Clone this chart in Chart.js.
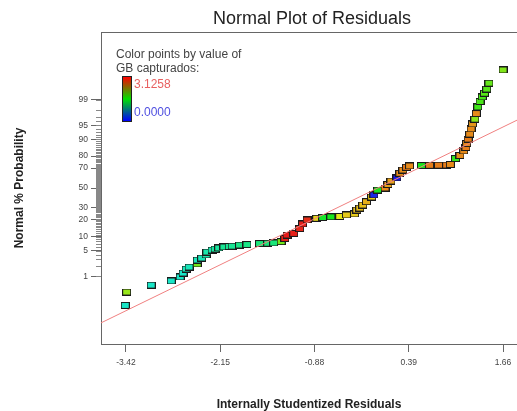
<!DOCTYPE html>
<html>
<head>
<meta charset="utf-8">
<script src="https://cdn.jsdelivr.net/npm/chart.js@4.4.1/dist/chart.umd.min.js"></script>
<style>
  html, body { margin: 0; padding: 0; background: #fff; }
</style>
</head>
<body>
<canvas id="npp" width="517" height="411"></canvas>
<script>
// residuals (x) and normal % probability (y)
const resX = [-3.43, -3.41, -3.08, -2.81, -2.69, -2.65, -2.61, -2.57, -2.46, -2.46,
  -2.40, -2.34, -2.33, -2.26, -2.22, -2.17, -2.10, -2.03, -1.99, -1.89,
  -1.79, -1.62, -1.51, -1.43, -1.33, -1.28, -1.25, -1.16, -1.08, -1.04,
  -0.98, -0.85, -0.77, -0.66, -0.54, -0.45, -0.34, -0.31, -0.27, -0.23,
  -0.18, -0.11, -0.08, -0.03, 0.07, 0.11, 0.15, 0.23, 0.27, 0.31,
  0.36, 0.40, 0.56, 0.67, 0.79, 0.90, 0.95, 1.02, 1.08, 1.13,
  1.16, 1.17, 1.19, 1.21, 1.23, 1.25, 1.28, 1.30, 1.32, 1.35,
  1.38, 1.41, 1.44, 1.47, 1.66];
const resP = [0.10, 0.31, 0.53, 0.72, 0.96, 1.26, 1.65, 1.88, 2.28, 2.9,
  3.27, 3.9, 4.6, 5.13, 5.42, 5.72, 6.03, 6.19, 6.3, 6.68,
  6.85, 7.2, 7.3, 7.4, 7.9, 9.2, 10.8, 11.6, 14.3, 17.2,
  20.0, 21.3, 21.9, 22.4, 22.7, 23.9, 24.7, 28.1, 29.9, 32.7,
  35.9, 40.6, 42.7, 47.9, 50.0, 53.7, 57.3, 60.4, 65.1, 68.2,
  70.7, 71.9, 72.3, 72.5, 72.6, 72.7, 73.2, 78.1, 80.4, 83.5,
  85.7, 87.9, 90.1, 92.2, 94.0, 95.4, 96.5, 97.5, 98.35, 98.86,
  99.17, 99.37, 99.54, 99.71, 99.905];
// GB capturados, used only for the point colour
const gbVal = [0.9, 2.05, 0.9, 0.9, 0.9, 0.9, 0.95, 0.95, 1.9, 0.95,
  0.95, 1.0, 1.0, 1.0, 1.05, 1.05, 1.1, 1.1, 1.1, 1.15,
  1.15, 1.2, 1.2, 1.2, 1.9, 3.1, 3.12, 3.1, 3.08, 3.1,
  3.05, 2.4, 1.5, 1.55, 2.35, 2.45, 2.45, 2.5, 2.5, 2.5,
  2.55, 2.45, 0.05, 1.55, 2.7, 2.6, 2.6, 0.0, 2.7, 2.7,
  2.75, 2.7, 1.55, 2.75, 2.75, 2.75, 2.7, 1.65, 2.7, 2.7,
  2.75, 2.7, 2.75, 2.7, 2.7, 2.65, 2.0, 2.7, 1.7, 1.75,
  1.75, 1.8, 1.8, 1.85, 1.95];
const gbMin = 0.0;
const gbMax = 3.1258;

// reference line end points
const refX = [-3.76, 1.85];
const refP = [0.019, 96.3];

const xTicks = [-3.42, -2.15, -0.88, 0.39, 1.66];
const yTickLabels = [1, 5, 10, 20, 30, 50, 70, 80, 90, 95, 99];

const FONT = 'Arial, "Liberation Sans", sans-serif';

// inverse normal cdf (Acklam)
function probToZ(p) {
  const a = [-3.969683028665376e+01, 2.209460984245205e+02, -2.759285104469687e+02, 1.383577518672690e+02, -3.066479806614716e+01, 2.506628277459239e+00];
  const b = [-5.447609879822406e+01, 1.615858368580409e+02, -1.556989798598866e+02, 6.680131188771972e+01, -1.328068155288572e+01];
  const c = [-7.784894002430293e-03, -3.223964580411365e-01, -2.400758277161838e+00, -2.549671010336070e+00, 4.374664141464968e+00, 2.938163982698783e+00];
  const d = [7.784695709041462e-03, 3.224671290700398e-01, 2.445134137142996e+00, 3.754408661907416e+00];
  const plow = 0.02425;
  let q, r;
  if (p < plow) {
    q = Math.sqrt(-2 * Math.log(p));
    return (((((c[0]*q+c[1])*q+c[2])*q+c[3])*q+c[4])*q+c[5]) / ((((d[0]*q+d[1])*q+d[2])*q+d[3])*q+1);
  }
  if (p > 1 - plow) {
    q = Math.sqrt(-2 * Math.log(1 - p));
    return -(((((c[0]*q+c[1])*q+c[2])*q+c[3])*q+c[4])*q+c[5]) / ((((d[0]*q+d[1])*q+d[2])*q+d[3])*q+1);
  }
  q = p - 0.5; r = q * q;
  return (((((a[0]*r+a[1])*r+a[2])*r+a[3])*r+a[4])*r+a[5])*q / (((((b[0]*r+b[1])*r+b[2])*r+b[3])*r+b[4])*r+1);
}

function colorFor(v) {
  const t = (v - gbMin) / (gbMax - gbMin);
  return `hsl(${Math.round(240 * (1 - t))}, 80%, 50%)`;
}

const markCache = {};
function marker(col) {
  if (markCache[col]) return markCache[col];
  const cv = document.createElement('canvas');
  cv.width = 9; cv.height = 7;
  const c = cv.getContext('2d');
  c.fillStyle = col;
  c.fillRect(0, 0, 9, 7);
  c.strokeStyle = '#1a1a1a';
  c.lineWidth = 1;
  c.strokeRect(0.5, 0.5, 8, 6);
  markCache[col] = cv;
  return cv;
}

const pts = resX.map((x, i) => ({ x: x, y: probToZ(resP[i] / 100) }));
const ptStyles = gbVal.map(v => marker(colorFor(v)));
const refLine = refX.map((x, i) => ({ x: x, y: probToZ(refP[i] / 100) }));

const extras = {
  id: 'extras',
  afterDraw(chart) {
    const ctx = chart.ctx;
    const area = chart.chartArea;
    const ys = chart.scales.y;
    ctx.save();
    // top frame line
    ctx.strokeStyle = '#666';
    ctx.lineWidth = 1;
    ctx.beginPath();
    ctx.moveTo(area.left, area.top + 0.5);
    ctx.lineTo(area.right, area.top + 0.5);
    ctx.stroke();
    // minor ticks on the probability axis
    ctx.strokeStyle = '#888';
    ctx.beginPath();
    for (let p = 1; p <= 99; p++) {
      const py = Math.round(ys.getPixelForValue(probToZ(p / 100))) + 0.5;
      ctx.moveTo(area.left - 5, py);
      ctx.lineTo(area.left, py);
    }
    ctx.stroke();
    // title
    ctx.fillStyle = '#222';
    ctx.font = '18px ' + FONT;
    ctx.textAlign = 'center';
    ctx.textBaseline = 'middle';
    ctx.fillText('Normal Plot of Residuals', (area.left + area.right) / 2 + 3, 19);
    // colour legend
    ctx.textAlign = 'left';
    ctx.font = '12px ' + FONT;
    ctx.fillStyle = '#444';
    ctx.fillText('Color points by value of', 116, 55);
    ctx.fillText('GB capturados:', 116, 69);
    const g = ctx.createLinearGradient(0, 77, 0, 121);
    g.addColorStop(0, '#ff0000');
    g.addColorStop(0.5, '#00e000');
    g.addColorStop(1, '#0000ff');
    ctx.fillStyle = g;
    ctx.fillRect(123, 77, 8, 44);
    ctx.strokeStyle = '#222';
    ctx.strokeRect(122.5, 76.5, 9, 45);
    ctx.fillStyle = '#e86060';
    ctx.fillText(gbMax.toFixed(4), 134, 85);
    ctx.fillStyle = '#5050e0';
    ctx.fillText(gbMin.toFixed(4), 134, 113);
    ctx.restore();
  }
};

new Chart(document.getElementById('npp'), {
  type: 'scatter',
  data: {
    datasets: [
      {
        label: 'fit',
        type: 'line',
        data: refLine,
        borderColor: '#f08080',
        borderWidth: 1,
        pointRadius: 0,
        fill: false
      },
      {
        label: 'residuals',
        data: pts,
        pointStyle: ptStyles,
        pointRadius: 4
      }
    ]
  },
  options: {
    responsive: false,
    animation: false,
    events: [],
    layout: { autoPadding: false, padding: { top: 32, left: 0, right: 0, bottom: 0 } },
    plugins: {
      legend: { display: false },
      tooltip: { enabled: false },
      title: { display: false }
    },
    scales: {
      x: {
        type: 'linear',
        min: -3.756,
        max: 1.848,
        afterBuildTicks(scale) {
          scale.ticks = xTicks.map(v => ({ value: v }));
        },
        afterFit(scale) {
          scale.height = 67;
          scale.paddingLeft = 0;
          scale.paddingRight = 0;
        },
        ticks: {
          autoSkip: false,
          maxRotation: 0,
          padding: 6,
          color: '#444',
          font: { family: FONT, size: 8.5 },
          callback: (v, i) => xTicks[i].toFixed(2)
        },
        grid: { drawOnChartArea: false, drawTicks: true, tickLength: 8, color: '#666' },
        border: { display: true, color: '#666' },
        title: {
          display: true,
          text: 'Internally Studentized Residuals',
          color: '#222',
          font: { family: FONT, size: 12, weight: 'bold' },
          padding: { top: 0, bottom: -1 }
        }
      },
      y: {
        type: 'linear',
        min: -4.105,
        max: 4.105,
        afterBuildTicks(scale) {
          scale.ticks = yTickLabels.map(p => ({ value: probToZ(p / 100) }));
        },
        afterFit(scale) {
          scale.width = 101;
          scale.paddingTop = 0;
          scale.paddingBottom = 0;
        },
        ticks: {
          autoSkip: false,
          padding: 3,
          color: '#444',
          font: { family: FONT, size: 8.5 },
          callback: (v, i) => String(yTickLabels[i])
        },
        grid: { drawOnChartArea: false, drawTicks: true, tickLength: 10, color: '#666' },
        border: { display: true, color: '#666' },
        title: {
          display: true,
          text: 'Normal % Probability',
          color: '#222',
          font: { family: FONT, size: 12, weight: 'bold' },
          padding: { top: 12, bottom: 0 }
        }
      }
    }
  },
  plugins: [extras]
});
</script>
</body>
</html>
